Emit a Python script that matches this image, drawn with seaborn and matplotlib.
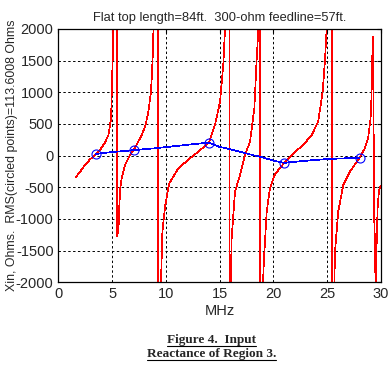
import numpy as np
import pandas as pd
import matplotlib
import matplotlib.pyplot as plt
import seaborn as sns
from matplotlib.lines import Line2D

matplotlib.use('agg')

# Input reactance (red curve); values beyond +-2000 mark the poles
freq_mhz = [1.62, 2.02, 2.48, 2.95, 3.41, 3.88, 4.34, 4.65, 4.80, 4.90, 4.96, 5.05, 5.11, 5.15, 5.45,
            5.47, 5.60, 5.67, 5.75, 5.89, 6.20, 6.66, 7.00, 7.75, 8.10, 8.37, 8.60, 8.68, 8.80, 8.90,
            9.25, 9.30, 9.45, 9.54, 9.67, 9.92, 10.30, 11.15, 12.24, 13.01, 14.00, 14.56, 15.03, 15.33,
            15.49, 15.60, 15.88, 15.92, 16.02, 16.11, 16.42, 16.89, 17.35, 17.82, 18.22, 18.44, 18.59,
            18.65, 18.70, 18.78, 18.95, 19.00, 19.12, 19.37, 19.67, 20.14, 21.00, 21.84, 22.77, 23.55,
            24.16, 24.57, 24.78, 24.94, 25.00, 25.42, 25.48, 25.60, 25.72, 26.02, 26.49, 27.11, 28.00,
            28.50, 28.80, 29.03, 29.12, 29.18, 29.27, 29.35, 29.45, 29.52, 29.59, 29.68, 29.80, 29.92, 30.00]
xin_ohms = [-343, -254, -148, -58, 9, 88, 210, 325, 483, 589, 1009, 1536, 1983, 3000, 9000,
            -1280, -1100, -780, -520, -359, -148, 10, 85, 325, 480, 693, 1000, 1220, 1700, 2500,
            20000, -20000, -3000, -1990, -1200, -800, -440, -201, -43, 62, 205, 483, 851, 1430,
            1983, 3000, 20000, -20000, -2100, -1306, -570, -306, 10, 220, 747, 1536, 1983,
            3000, 20000, -20000, -2500, -2100, -1622, -886, -517, -295, -115, 36, 167, 325,
            535, 1009, 1483, 1983, 3000, 20000, -20000, -2500, -1517, -886, -464, -254, -35,
            115, 273, 589, 957, 1536, 1877, -880, -1500, -2600, -1411, -832, -570, -491, -480]

# blue trace through the ham band points
blue_mhz = [3.5, 4.8, 7.0, 9.0, 10.9, 12.0, 14.0, 14.9, 16.1, 17.4, 18.9, 20.1, 21.0, 22.8, 25.1, 28.0]
blue_ohms = [25, 52, 85, 115, 150, 170, 205, 141, 95, 36, -27, -85, -115, -85, -54, -35]

# circled points
band_mhz = [3.5, 7.0, 14.0, 21.0, 28.0]
band_ohms = [25, 85, 205, -115, -35]

x_ticks = [0, 5, 10, 15, 20, 25, 30]
y_ticks = [-2000, -1500, -1000, -500, 0, 500, 1000, 1500, 2000]

sns.set_style('white')
plt.rcParams['font.family'] = ['Liberation Sans', 'DejaVu Sans']
plt.rcParams['axes.unicode_minus'] = False

fig = plt.figure(figsize=(3.92, 3.66), dpi=100)
ax = fig.add_axes([0.149, 0.229, 0.823, 0.692])

red = pd.DataFrame({'f': freq_mhz, 'x': xin_ohms})
sns.lineplot(data=red, x='f', y='x', ax=ax, color='#ff0000', linewidth=0.5,
             sort=False, estimator=None, antialiased=False)
sns.lineplot(x=blue_mhz, y=blue_ohms, ax=ax, color='#0000ff', linewidth=0.5,
             sort=False, estimator=None, antialiased=False)
ax.plot(band_mhz, band_ohms, 'o', markersize=6.5, markerfacecolor='none',
        markeredgecolor='#0000ff', markeredgewidth=0.8)

ax.set_xlim(0, 30)
ax.set_ylim(-2000, 2000)
ax.set_xticks(x_ticks)
ax.set_yticks(y_ticks)
ax.grid(True, color='black', linestyle=(0, (2.5, 2.5)), linewidth=0.7)
ax.tick_params(direction='in', length=3, labelsize=10.5, top=True, right=True, color='black')
for s in ax.spines.values():
    s.set_color('black')
    s.set_linewidth(0.9)

ax.set_title('Flat top length=84ft.  300-ohm feedline=57ft.', fontsize=9.3, pad=6)
ax.set_xlabel('MHz', fontsize=10.5, labelpad=2)
ax.set_ylabel('Xin, Ohms.  RMS(circled points)=113.6008 Ohms', fontsize=8.9)
ax.yaxis.set_label_coords(-0.126, 0.5)

# underlined bold caption
cap1 = fig.text(0.54, 0.063, 'Figure 4.  Input', ha='center', va='baseline',
                family=['Liberation Serif'], weight='bold', fontsize=9.5)
cap2 = fig.text(0.54, 0.024, 'Reactance of Region 3.', ha='center', va='baseline',
                family=['Liberation Serif'], weight='bold', fontsize=9.5)
fig.canvas.draw()
inv = fig.transFigure.inverted()
for t in (cap1, cap2):
    bb = t.get_window_extent()
    (x0, _), (x1, _) = inv.transform([(bb.x0, 0), (bb.x1, 0)])
    ybase = t.get_position()[1] - 0.007
    fig.add_artist(Line2D([x0, x1], [ybase, ybase], color='black', linewidth=0.8,
                          transform=fig.transFigure))

plt.savefig('out.png', dpi=100)
plt.close()
